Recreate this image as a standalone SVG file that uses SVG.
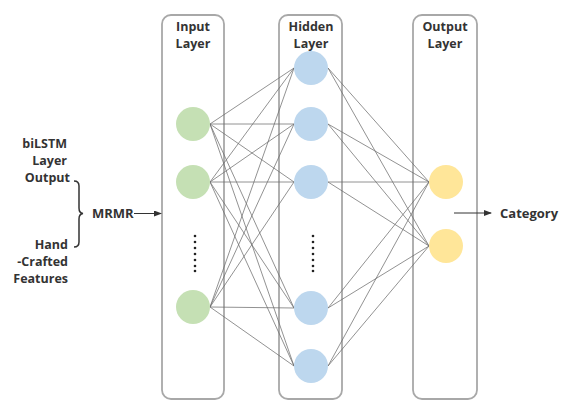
<svg xmlns="http://www.w3.org/2000/svg" width="578" height="415" viewBox="0 0 578 415">
<style>
.box{fill:#fff;stroke:#a8a8a8;stroke-width:1.8}
.t{font-family:"Open Sans","Noto Sans",sans-serif;font-weight:bold;font-size:13px;fill:#333}
.s{font-size:12.5px}
.c{text-anchor:middle}
.r{text-anchor:end}
.in{fill:#c5e0b4}
.hid{fill:#bdd7ee}
.out{fill:#ffe699}
.e{stroke:#6e6e6e;stroke-width:0.75;fill:none}
.dot{fill:#222}
</style>
<defs>
<marker id="ah" markerWidth="8" markerHeight="6" refX="7" refY="3" orient="auto" markerUnits="userSpaceOnUse">
<path d="M0,0 L8,3 L0,6 Z" fill="#333"/>
</marker>
</defs>
<rect width="578" height="415" fill="#fff"/>
<g id="input-layer">
<rect class="box" x="162" y="15" width="62" height="384" rx="9"/>
<text class="t s c" x="193" y="31">Input</text>
<text class="t s c" x="193" y="48">Layer</text>
</g>
<g id="hidden-layer">
<rect class="box" x="279" y="15" width="63" height="384" rx="9"/>
<text class="t s c" x="311" y="31">Hidden</text>
<text class="t s c" x="311" y="48">Layer</text>
</g>
<g id="output-layer">
<rect class="box" x="413" y="15" width="64" height="384" rx="9"/>
<text class="t s c" x="445" y="31">Output</text>
<text class="t s c" x="445" y="48">Layer</text>
</g>
<g id="connectors">
<path class="e" d="M210,124 L294,68 M210,124 L294,124 M210,124 L294,182 M210,124 L294,308 M210,124 L294,366"/>
<path class="e" d="M210,182 L294,68 M210,182 L294,124 M210,182 L294,182 M210,182 L294,308 M210,182 L294,366"/>
<path class="e" d="M210,307 L294,68 M210,307 L294,124 M210,307 L294,182 M210,307 L294,308 M210,307 L294,366"/>
<path class="e" d="M328,68 L429,182 M328,124 L429,182 M328,182 L429,182 M328,308 L429,182 M328,366 L429,182"/>
<path class="e" d="M328,68 L429,246 M328,124 L429,246 M328,182 L429,246 M328,308 L429,246 M328,366 L429,246"/>
<path d="M134,213.5 L161,213.5" stroke="#333" stroke-width="1" marker-end="url(#ah)"/>
<path d="M454,213 L491,213" stroke="#333" stroke-width="1" marker-end="url(#ah)"/>
</g>
<g id="input-nodes">
<circle class="in" cx="193" cy="124" r="17"/>
<circle class="in" cx="193" cy="182" r="17"/>
<circle class="in" cx="193" cy="307" r="17"/>
<g class="dot"><circle cx="195" cy="236" r="1.3"/><circle cx="195" cy="242" r="1.3"/><circle cx="195" cy="248" r="1.3"/><circle cx="195" cy="254" r="1.3"/><circle cx="195" cy="260" r="1.3"/><circle cx="195" cy="266" r="1.3"/><circle cx="195" cy="271" r="1.3"/></g>
</g>
<g id="hidden-nodes">
<circle class="hid" cx="311" cy="68" r="17"/>
<circle class="hid" cx="311" cy="124" r="17"/>
<circle class="hid" cx="311" cy="182" r="17"/>
<circle class="hid" cx="311" cy="308" r="17"/>
<circle class="hid" cx="311" cy="366" r="17"/>
<g class="dot"><circle cx="313" cy="236" r="1.3"/><circle cx="313" cy="242" r="1.3"/><circle cx="313" cy="248" r="1.3"/><circle cx="313" cy="254" r="1.3"/><circle cx="313" cy="260" r="1.3"/><circle cx="313" cy="266" r="1.3"/><circle cx="313" cy="271" r="1.3"/></g>
</g>
<g id="output-nodes">
<circle class="out" cx="446" cy="182" r="17"/>
<circle class="out" cx="446" cy="246" r="17"/>
</g>
<g id="features">
<text class="t s r" x="67" y="148">biLSTM</text>
<text class="t s r" x="67" y="165">Layer</text>
<text class="t s r" x="70" y="182">Output</text>
<text class="t s r" x="68" y="249">Hand</text>
<text class="t s r" x="68" y="266">-Crafted</text>
<text class="t s r" x="68" y="283">Features</text>
<path d="M74,181 Q79,181 79,186 L79,208 Q79,213 83,213.5 Q79,214 79,219 L79,242 Q79,247 74,247" fill="none" stroke="#333" stroke-width="1.5"/>
</g>
<g id="mrmr">
<text class="t" x="92" y="218">MRMR</text>
</g>
<g id="category">
<text class="t" x="500" y="218">Category</text>
</g>
</svg>
